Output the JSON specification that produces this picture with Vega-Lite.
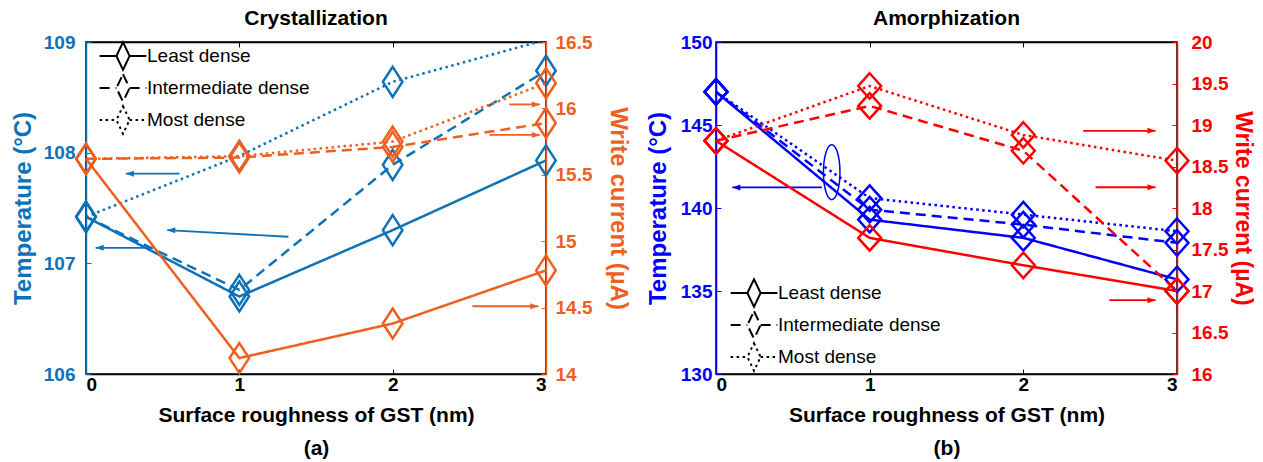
{
  "$schema": "https://vega.github.io/schema/vega-lite/v6.json",
  "background": "white",
  "padding": {"left": 10, "top": 7, "right": 0, "bottom": 0},
  "spacing": 14,
  "config": {
    "font": "Liberation Sans",
    "view": {"stroke": "black", "strokeWidth": 1.5},
    "axis": {
      "grid": false,
      "labelFont": "Liberation Sans",
      "labelFontWeight": "bold",
      "labelFontSize": 19,
      "titleFont": "Liberation Sans",
      "titleFontWeight": "bold",
      "titleFontSize": 24,
      "domainWidth": 1.5,
      "tickWidth": 1,
      "tickSize": -5
    },
    "title": {"font": "Liberation Sans", "fontSize": 21, "fontWeight": "bold", "color": "black", "offset": 4, "anchor": "middle"},
    "legend": {
      "title": null,
      "orient": "none",
      "padding": 0,
      "labelFont": "Liberation Sans",
      "labelFontSize": 19,
      "labelColor": "black",
      "labelOffset": 11,
      "labelLimit": 400,
      "rowPadding": -4,
      "symbolSize": 576,
      "symbolStrokeWidth": 2,
      "symbolStrokeColor": "black",
      "symbolFillColor": "transparent"
    }
  },
  "datasets": {
    "series": [
      {"panel": "a", "roughness": 0, "density": "Least dense", "temperature": 107.42, "current": 15.62},
      {"panel": "a", "roughness": 1, "density": "Least dense", "temperature": 106.70, "current": 14.12},
      {"panel": "a", "roughness": 2, "density": "Least dense", "temperature": 107.30, "current": 14.38},
      {"panel": "a", "roughness": 3, "density": "Least dense", "temperature": 107.93, "current": 14.78},
      {"panel": "a", "roughness": 0, "density": "Intermediate dense", "temperature": 107.42, "current": 15.62},
      {"panel": "a", "roughness": 1, "density": "Intermediate dense", "temperature": 106.76, "current": 15.63},
      {"panel": "a", "roughness": 2, "density": "Intermediate dense", "temperature": 107.89, "current": 15.71},
      {"panel": "a", "roughness": 3, "density": "Intermediate dense", "temperature": 108.74, "current": 15.89},
      {"panel": "a", "roughness": 0, "density": "Most dense", "temperature": 107.42, "current": 15.62},
      {"panel": "a", "roughness": 1, "density": "Most dense", "temperature": 107.97, "current": 15.64},
      {"panel": "a", "roughness": 2, "density": "Most dense", "temperature": 108.64, "current": 15.75},
      {"panel": "a", "roughness": 3, "density": "Most dense", "temperature": 109.02, "current": 16.19},
      {"panel": "b", "roughness": 0, "density": "Least dense", "temperature": 147.0, "current": 18.81},
      {"panel": "b", "roughness": 1, "density": "Least dense", "temperature": 139.3, "current": 17.64},
      {"panel": "b", "roughness": 2, "density": "Least dense", "temperature": 138.2, "current": 17.31},
      {"panel": "b", "roughness": 3, "density": "Least dense", "temperature": 135.7, "current": 17.0},
      {"panel": "b", "roughness": 0, "density": "Intermediate dense", "temperature": 147.0, "current": 18.81},
      {"panel": "b", "roughness": 1, "density": "Intermediate dense", "temperature": 139.9, "current": 19.23},
      {"panel": "b", "roughness": 2, "density": "Intermediate dense", "temperature": 139.0, "current": 18.69},
      {"panel": "b", "roughness": 3, "density": "Intermediate dense", "temperature": 137.9, "current": 17.0},
      {"panel": "b", "roughness": 0, "density": "Most dense", "temperature": 147.0, "current": 18.81},
      {"panel": "b", "roughness": 1, "density": "Most dense", "temperature": 140.6, "current": 19.47},
      {"panel": "b", "roughness": 2, "density": "Most dense", "temperature": 139.6, "current": 18.88},
      {"panel": "b", "roughness": 3, "density": "Most dense", "temperature": 138.6, "current": 18.57}
    ],
    "arrows": [
      {"panel": "a", "quantity": "temperature", "from_x": 0.61, "to_x": 0.26, "from_y": 107.81, "to_y": 107.81},
      {"panel": "a", "quantity": "temperature", "from_x": 1.32, "to_x": 0.53, "from_y": 107.24, "to_y": 107.30},
      {"panel": "a", "quantity": "temperature", "from_x": 0.43, "to_x": 0.063, "from_y": 107.14, "to_y": 107.14},
      {"panel": "a", "quantity": "current", "from_x": 2.76, "to_x": 2.96, "from_y": 16.03, "to_y": 16.03},
      {"panel": "a", "quantity": "current", "from_x": 2.63, "to_x": 2.96, "from_y": 15.80, "to_y": 15.80},
      {"panel": "a", "quantity": "current", "from_x": 2.52, "to_x": 2.95, "from_y": 14.51, "to_y": 14.51},
      {"panel": "b", "quantity": "temperature", "from_x": 0.69, "to_x": 0.106, "from_y": 141.24, "to_y": 141.24},
      {"panel": "b", "quantity": "current", "from_x": 2.39, "to_x": 2.86, "from_y": 18.93, "to_y": 18.93},
      {"panel": "b", "quantity": "current", "from_x": 2.47, "to_x": 2.86, "from_y": 18.25, "to_y": 18.25},
      {"panel": "b", "quantity": "current", "from_x": 2.56, "to_x": 2.86, "from_y": 16.89, "to_y": 16.89}
    ],
    "rings": [
      {"panel": "b", "roughness": 0.753, "temperature": 142.16}
    ]
  },
  "resolve": {"scale": {"strokeDash": "independent"}},
  "hconcat": [
    {
      "title": "Crystallization",
      "width": 460,
      "height": 332,
      "resolve": {"scale": {"y": "independent"}, "axis": {"x": "independent"}},
      "layer": [
        {
          "layer": [
            {
              "data": {"name": "series"},
              "transform": [{"filter": "datum.panel === 'a'"}],
              "mark": {"type": "line", "color": "#0E72B8", "strokeWidth": 2.5, "clip": true},
              "encoding": {
                "x": {"field": "roughness", "type": "quantitative",
                      "scale": {"domain": [0, 3], "nice": false, "zero": false},
                      "axis": {"values": [0, 1, 2, 3], "format": "d", "domainColor": "black", "tickColor": "black", "labelColor": "black", "labelPadding": 6,
                               "title": ["Surface roughness of GST (nm)", "(a)"], "titleLineHeight": 33, "titlePadding": 10, "titleFontSize": 21, "titleColor": "black"}},
                "y": {"field": "temperature", "type": "quantitative",
                      "scale": {"domain": [106, 109], "nice": false, "zero": false},
                      "axis": {"values": [106, 107, 108, 109], "format": "d", "domainColor": "#0E72B8", "tickColor": "#0E72B8", "labelColor": "#0E72B8", "titleColor": "#0E72B8",
                               "labelPadding": 16, "titlePadding": 8, "title": "Temperature (°C)"}},
                "strokeDash": {"field": "density", "type": "nominal",
                               "scale": {"domain": ["Least dense", "Intermediate dense", "Most dense"], "range": [[1, 0], [10, 6], [2.5, 3.5]]},
                               "legend": {"legendX": 24, "legendY": 1,
                                          "symbolType": "M-1.95,0H-0.55M0.55,0H1.95M0,-1.15L0.55,0L0,1.15L-0.55,0Z",
                                          "encode": {"symbols": {"update": {"stroke": {"value": "black"}, "fill": {"value": "transparent"}}}}}}
              }
            },
            {
              "data": {"name": "series"},
              "transform": [{"filter": "datum.panel === 'a' && datum.temperature <= 109"}],
              "mark": {"type": "point", "shape": "M0,-1L0.65,0L0,1L-0.65,0Z", "size": 900, "filled": false, "color": "#0E72B8", "strokeWidth": 2.5, "opacity": 1},
              "encoding": {
                "x": {"field": "roughness", "type": "quantitative"},
                "y": {"field": "temperature", "type": "quantitative"}
              }
            },
            {
              "data": {"name": "arrows"},
              "transform": [{"filter": "datum.panel === 'a' && datum.quantity === 'temperature'"}],
              "mark": {"type": "rule", "color": "#0E72B8", "strokeWidth": 1.8},
              "encoding": {
                "x": {"field": "from_x", "type": "quantitative"},
                "x2": {"field": "to_x"},
                "y": {"field": "from_y", "type": "quantitative"},
                "y2": {"field": "to_y"}
              }
            },
            {
              "data": {"name": "arrows"},
              "transform": [{"filter": "datum.panel === 'a' && datum.quantity === 'temperature'"}],
              "mark": {"type": "point", "shape": "M0,0L2,-0.75L2,0.75Z", "size": 64, "filled": true, "color": "#0E72B8", "opacity": 1},
              "encoding": {
                "x": {"field": "to_x", "type": "quantitative"},
                "y": {"field": "to_y", "type": "quantitative"}
              }
            }
          ]
        },
        {
          "layer": [
            {
              "data": {"name": "series"},
              "transform": [{"filter": "datum.panel === 'a'"}],
              "mark": {"type": "line", "color": "#EF5F1F", "strokeWidth": 2.5},
              "encoding": {
                "x": {"field": "roughness", "type": "quantitative",
                      "axis": {"orient": "top", "values": [0, 1, 2, 3], "labels": false, "title": null, "domainColor": "black", "tickColor": "black"}},
                "y": {"field": "current", "type": "quantitative",
                      "scale": {"domain": [14, 16.5], "nice": false, "zero": false},
                      "axis": {"orient": "right", "values": [14, 14.5, 15, 15.5, 16, 16.5], "format": "~g", "domainColor": "#EF5F1F", "tickColor": "#EF5F1F", "labelColor": "#EF5F1F", "titleColor": "#EF5F1F",
                               "labelPadding": 14, "titlePadding": 14, "title": "Write current (µA)"}},
                "strokeDash": {"field": "density", "type": "nominal"}
              }
            },
            {
              "data": {"name": "series"},
              "transform": [{"filter": "datum.panel === 'a'"}],
              "mark": {"type": "point", "shape": "M0,-1L0.65,0L0,1L-0.65,0Z", "size": 900, "filled": false, "color": "#EF5F1F", "strokeWidth": 2.5, "opacity": 1},
              "encoding": {
                "x": {"field": "roughness", "type": "quantitative"},
                "y": {"field": "current", "type": "quantitative"}
              }
            },
            {
              "data": {"name": "arrows"},
              "transform": [{"filter": "datum.panel === 'a' && datum.quantity === 'current'"}],
              "mark": {"type": "rule", "color": "#EF5F1F", "strokeWidth": 1.8},
              "encoding": {
                "x": {"field": "from_x", "type": "quantitative"},
                "x2": {"field": "to_x"},
                "y": {"field": "from_y", "type": "quantitative"},
                "y2": {"field": "to_y"}
              }
            },
            {
              "data": {"name": "arrows"},
              "transform": [{"filter": "datum.panel === 'a' && datum.quantity === 'current'"}],
              "mark": {"type": "point", "shape": "M0,0L-2,-0.75L-2,0.75Z", "size": 64, "filled": true, "color": "#EF5F1F", "opacity": 1},
              "encoding": {
                "x": {"field": "to_x", "type": "quantitative"},
                "y": {"field": "to_y", "type": "quantitative"}
              }
            }
          ]
        }
      ]
    },
    {
      "title": "Amorphization",
      "width": 461,
      "height": 332,
      "resolve": {"scale": {"y": "independent"}, "axis": {"x": "independent"}},
      "layer": [
        {
          "layer": [
            {
              "data": {"name": "series"},
              "transform": [{"filter": "datum.panel === 'b'"}],
              "mark": {"type": "line", "color": "#0000FF", "strokeWidth": 2.5},
              "encoding": {
                "x": {"field": "roughness", "type": "quantitative",
                      "scale": {"domain": [0, 3], "nice": false, "zero": false},
                      "axis": {"values": [0, 1, 2, 3], "format": "d", "domainColor": "black", "tickColor": "black", "labelColor": "black", "labelPadding": 6,
                               "title": ["Surface roughness of GST (nm)", "(b)"], "titleLineHeight": 33, "titlePadding": 10, "titleFontSize": 21, "titleColor": "black"}},
                "y": {"field": "temperature", "type": "quantitative",
                      "scale": {"domain": [130, 150], "nice": false, "zero": false},
                      "axis": {"values": [130, 135, 140, 145, 150], "format": "d", "domainColor": "#0000FF", "tickColor": "#0000FF", "labelColor": "#0000FF", "titleColor": "#0000FF",
                               "labelPadding": 9, "titlePadding": 10, "title": "Temperature (°C)"}},
                "strokeDash": {"field": "density", "type": "nominal",
                               "scale": {"domain": ["Least dense", "Intermediate dense", "Most dense"], "range": [[1, 0], [10, 6], [2.5, 3.5]]},
                               "legend": {"legendX": 25, "legendY": 238,
                                          "symbolType": "M-1.95,0H-0.55M0.55,0H1.95M0,-1.15L0.55,0L0,1.15L-0.55,0Z",
                                          "encode": {"symbols": {"update": {"stroke": {"value": "black"}, "fill": {"value": "transparent"}}}}}}
              }
            },
            {
              "data": {"name": "series"},
              "transform": [{"filter": "datum.panel === 'b'"}],
              "mark": {"type": "point", "shape": "M0,-1L0.9,0L0,1L-0.9,0Z", "size": 650, "filled": false, "color": "#0000FF", "strokeWidth": 2.5, "opacity": 1},
              "encoding": {
                "x": {"field": "roughness", "type": "quantitative"},
                "y": {"field": "temperature", "type": "quantitative"}
              }
            },
            {
              "data": {"name": "arrows"},
              "transform": [{"filter": "datum.panel === 'b' && datum.quantity === 'temperature'"}],
              "mark": {"type": "rule", "color": "#0000FF", "strokeWidth": 1.8},
              "encoding": {
                "x": {"field": "from_x", "type": "quantitative"},
                "x2": {"field": "to_x"},
                "y": {"field": "from_y", "type": "quantitative"},
                "y2": {"field": "to_y"}
              }
            },
            {
              "data": {"name": "arrows"},
              "transform": [{"filter": "datum.panel === 'b' && datum.quantity === 'temperature'"}],
              "mark": {"type": "point", "shape": "M0,0L2,-0.75L2,0.75Z", "size": 64, "filled": true, "color": "#0000FF", "opacity": 1},
              "encoding": {
                "x": {"field": "to_x", "type": "quantitative"},
                "y": {"field": "to_y", "type": "quantitative"}
              }
            },
            {
              "data": {"name": "rings"},
              "transform": [{"filter": "datum.panel === 'b'"}],
              "mark": {"type": "point", "shape": "M0,-1A0.3,1 0 1,1 0,1A0.3,1 0 1,1 0,-1Z", "size": 3025, "filled": false, "color": "#0000FF", "strokeWidth": 1.5, "opacity": 1},
              "encoding": {
                "x": {"field": "roughness", "type": "quantitative"},
                "y": {"field": "temperature", "type": "quantitative"}
              }
            }
          ]
        },
        {
          "layer": [
            {
              "data": {"name": "series"},
              "transform": [{"filter": "datum.panel === 'b'"}],
              "mark": {"type": "line", "color": "#FF0000", "strokeWidth": 2.5},
              "encoding": {
                "x": {"field": "roughness", "type": "quantitative",
                      "axis": {"orient": "top", "values": [0, 1, 2, 3], "labels": false, "title": null, "domainColor": "black", "tickColor": "black"}},
                "y": {"field": "current", "type": "quantitative",
                      "scale": {"domain": [16, 20], "nice": false, "zero": false},
                      "axis": {"orient": "right", "values": [16, 16.5, 17, 17.5, 18, 18.5, 19, 19.5, 20], "format": "~g", "domainColor": "#FF0000", "tickColor": "#FF0000", "labelColor": "#FF0000", "titleColor": "#FF0000",
                               "labelPadding": 19, "titlePadding": 3, "titleFontSize": 23, "title": "Write current (µA)"}},
                "strokeDash": {"field": "density", "type": "nominal"}
              }
            },
            {
              "data": {"name": "series"},
              "transform": [{"filter": "datum.panel === 'b'"}],
              "mark": {"type": "point", "shape": "M0,-1L0.9,0L0,1L-0.9,0Z", "size": 650, "filled": false, "color": "#FF0000", "strokeWidth": 2.5, "opacity": 1},
              "encoding": {
                "x": {"field": "roughness", "type": "quantitative"},
                "y": {"field": "current", "type": "quantitative"}
              }
            },
            {
              "data": {"name": "arrows"},
              "transform": [{"filter": "datum.panel === 'b' && datum.quantity === 'current'"}],
              "mark": {"type": "rule", "color": "#FF0000", "strokeWidth": 1.8},
              "encoding": {
                "x": {"field": "from_x", "type": "quantitative"},
                "x2": {"field": "to_x"},
                "y": {"field": "from_y", "type": "quantitative"},
                "y2": {"field": "to_y"}
              }
            },
            {
              "data": {"name": "arrows"},
              "transform": [{"filter": "datum.panel === 'b' && datum.quantity === 'current'"}],
              "mark": {"type": "point", "shape": "M0,0L-2,-0.75L-2,0.75Z", "size": 64, "filled": true, "color": "#FF0000", "opacity": 1},
              "encoding": {
                "x": {"field": "to_x", "type": "quantitative"},
                "y": {"field": "to_y", "type": "quantitative"}
              }
            }
          ]
        }
      ]
    }
  ]
}
